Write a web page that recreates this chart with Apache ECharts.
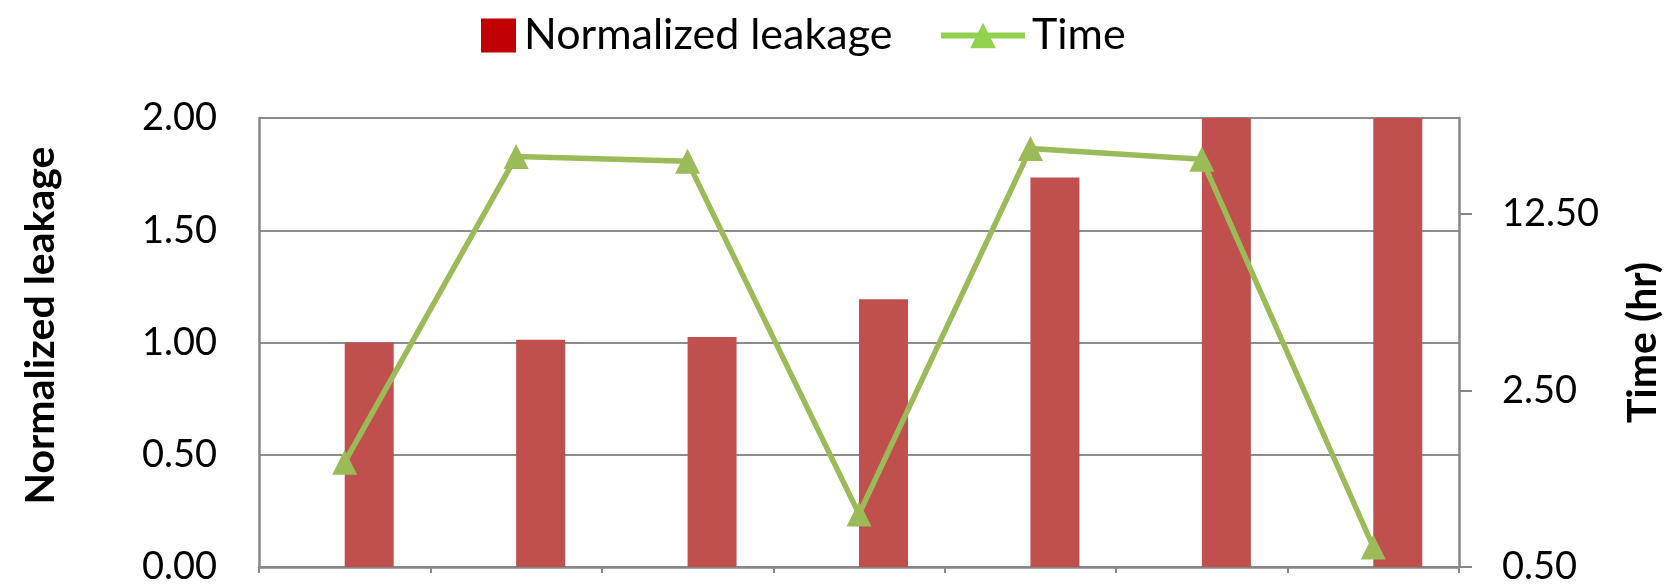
<!DOCTYPE html>
<html><head><meta charset="utf-8">
<script src="https://cdn.jsdelivr.net/npm/echarts@6/dist/echarts.min.js"></script>
<style>html,body{margin:0;padding:0;background:#fff}#c{width:1677px;height:586px}</style>
</head><body><div id="c"></div>
<script>
const categories = ['1','2','3','4','5','6','7'];
const leakage = [1.00, 1.012, 1.024, 1.193, 1.735, 2.2, 2.5];
const timeHr = [1.30, 21.1, 20.2, 0.81, 22.7, 20.6, 0.60];
const leftTicks = {min: 0, max: 2, interval: 0.5};
const rightTicks = {min: 0.5, max: 30, base: 5};

const FONT = 'Lato';
const fmt2 = v => Number(Number(v).toPrecision(3)).toFixed(2);
const chart = echarts.init(document.getElementById('c'));
chart.setOption({
  animation: false,
  textStyle: {fontFamily: FONT},
  legend: [
    {data: [{name: 'Normalized leakage', itemStyle: {color: '#C00000'}}], left: 476, top: 9, icon: 'rect', itemWidth: 35, itemHeight: 34,
     textStyle: {fontSize: 43, color: '#000', fontFamily: FONT, padding: [0, 0, 0, 3]}},
    {data: [{name: 'Time', itemStyle: {color: '#92D050'}, lineStyle: {color: '#92D050', width: 6}}], left: 933, top: 9, itemWidth: 84, itemHeight: 32,
     textStyle: {fontSize: 43, color: '#000', fontFamily: FONT, padding: [0, 0, 0, 2]}}
  ],
  grid: {left: 259, right: 218, top: 118, bottom: 16, containLabel: false},
  xAxis: {type: 'category', data: categories, boundaryGap: true,
    axisLine: {lineStyle: {color: '#868686', width: 2.5}},
    axisTick: {show: true, length: 6, lineStyle: {color: '#868686', width: 2}},
    axisLabel: {show: false}},
  yAxis: [
    {type: 'value', min: leftTicks.min, max: leftTicks.max, interval: leftTicks.interval,
     name: 'Normalized leakage', nameLocation: 'middle', nameRotate: 90, nameGap: 198,
     nameTextStyle: {fontSize: 41, fontWeight: 'bold', color: '#000', fontFamily: FONT, padding: [0, 0, 0, 34]},
     axisLine: {show: true, lineStyle: {color: '#868686', width: 2.5}},
     axisTick: {show: false},
     axisLabel: {fontSize: 38, color: '#000', margin: 42, formatter: v => v.toFixed(2)},
     splitLine: {show: true, lineStyle: {color: '#8c8c8c', width: 2}}},
    {type: 'log', logBase: rightTicks.base, min: rightTicks.min, max: rightTicks.max, interval: 1,
     name: 'Time (hr)', nameLocation: 'middle', nameRotate: 90, nameGap: 163,
     nameTextStyle: {fontSize: 41, fontWeight: 'bold', color: '#000', fontFamily: FONT},
     axisLine: {show: true, lineStyle: {color: '#868686', width: 2.5}},
     axisTick: {show: true, inside: false, length: 13, lineStyle: {color: '#868686', width: 2}},
     axisLabel: {fontSize: 38, color: '#000', margin: 43, showMaxLabel: false, formatter: fmt2},
     splitLine: {show: false}}
  ],
  series: [
    {name: 'spacer', type: 'bar', yAxisIndex: 0, data: categories.map(() => null), barWidth: 49, barGap: '0%'},
    {name: 'Normalized leakage', type: 'bar', yAxisIndex: 0, data: leakage, barWidth: 49, barGap: '0%',
     itemStyle: {color: '#C0504D'}},
    {name: 'Time', type: 'line', yAxisIndex: 1, data: timeHr, symbol: 'triangle', symbolSize: 25,
     itemStyle: {color: '#9BBB59'}, lineStyle: {color: '#9BBB59', width: 5.5}, z: 5}
  ]
});
</script></body></html>
